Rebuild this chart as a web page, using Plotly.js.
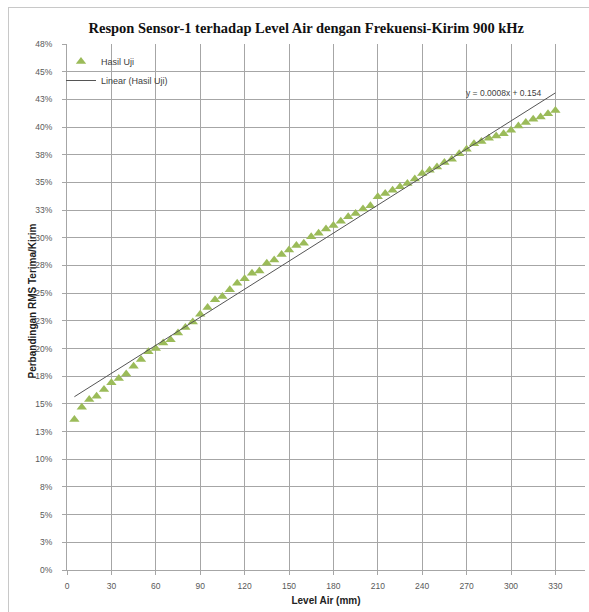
<!DOCTYPE html>
<html>
<head>
<meta charset="utf-8">
<script src="https://cdn.plot.ly/plotly-3.0.1.min.js"></script>
<style>
html,body{margin:0;padding:0;background:#fff;}
#wrap{position:relative;width:589px;height:612px;overflow:hidden;}
#chart{width:589px;height:612px;}
#frame{position:absolute;left:8px;top:7px;width:600px;height:620px;border-left:1px solid #c8c8c8;border-top:1px solid #c8c8c8;pointer-events:none;}
</style>
</head>
<body>
<div id="wrap"><div id="chart"></div><div id="frame"></div></div>
<script>
// Data
const levelAir = [5,10,15,20,25,30,35,40,45,50,55,60,65,70,75,80,85,90,95,100,
  105,110,115,120,125,130,135,140,145,150,155,160,165,170,175,180,185,190,195,200,
  205,210,215,220,225,230,235,240,245,250,255,260,265,270,275,280,285,290,295,300,
  305,310,315,320,325,330];
const hasilUji = [0.136,0.147,0.154,0.157,0.163,0.169,0.173,0.177,0.184,0.190,
  0.197,0.200,0.205,0.208,0.214,0.219,0.224,0.231,0.237,0.244,
  0.247,0.253,0.259,0.263,0.268,0.270,0.277,0.280,0.285,0.289,
  0.293,0.295,0.301,0.304,0.308,0.311,0.315,0.319,0.322,0.326,
  0.329,0.337,0.340,0.343,0.346,0.349,0.353,0.358,0.361,0.364,
  0.368,0.371,0.376,0.380,0.385,0.387,0.390,0.392,0.394,0.397,
  0.401,0.404,0.407,0.409,0.412,0.415];
const yTickVals = [0,0.025,0.05,0.075,0.1,0.125,0.15,0.175,0.2,0.225,0.25,0.275,0.3,0.325,0.35,0.375,0.4,0.425,0.45,0.475];
const yTickText = ["0%","3%","5%","8%","10%","13%","15%","18%","20%","23%","25%","28%","30%","33%","35%","38%","40%","43%","45%","48%"];
const xTickVals = [0,30,60,90,120,150,180,210,240,270,300,330];
const chartTitle = "Respon Sensor-1 terhadap Level Air dengan Frekuensi-Kirim 900 kHz";
const xTitle = "Level Air (mm)";
const yTitle = "Perbandingan RMS Terima/Kirim";
const seriesName = "Hasil Uji";
const trendName = "Linear (Hasil Uji)";
const eqText = "y = 0.0008x + 0.154";

// least-squares linear trend (as Excel does)
const n = levelAir.length;
let sx=0, sy=0, sxx=0, sxy=0;
for (let i=0;i<n;i++){ sx+=levelAir[i]; sy+=hasilUji[i]; sxx+=levelAir[i]*levelAir[i]; sxy+=levelAir[i]*hasilUji[i]; }
const slope = (n*sxy - sx*sy)/(n*sxx - sx*sx);
const intercept = (sy - slope*sx)/n;
const xMin = Math.min(...levelAir), xMax = Math.max(...levelAir);
const trendX = [xMin, xMax];
const trendY = trendX.map(v => intercept + slope*v);

const tickFont = {family:"Liberation Sans, Arial, sans-serif", size:8.5, color:"#595959"};
const gridColor = "#a6a6a6";

const data = [
  {x: levelAir, y: hasilUji, type:"scatter", mode:"markers", name: seriesName,
   marker:{symbol:"triangle-up", size:9, color:"#9BBB59", line:{width:0}}},
  {x: trendX, y: trendY, type:"scatter", mode:"lines", name: trendName,
   line:{color:"#555555", width:1}}
];

const layout = {
  width:589, height:612,
  margin:{l:67, r:4, t:44, b:42},
  paper_bgcolor:"#ffffff", plot_bgcolor:"#ffffff",
  title:{text: chartTitle, font:{family:"Liberation Serif, Times New Roman, serif", size:14.5, color:"#111111", weight:"bold"},
         x:0.52, xanchor:"center", y:0.955, yanchor:"middle"},
  xaxis:{range:[0,350], tickvals:xTickVals, ticks:"outside", ticklen:4, tickcolor:gridColor,
         showgrid:true, gridcolor:gridColor, gridwidth:1, showline:true, linecolor:gridColor, linewidth:1,
         zeroline:false, tickfont:tickFont, ticklabelstandoff:4,
         title:{text:xTitle, font:{family:"Liberation Sans, Arial, sans-serif", size:10, color:"#222222", weight:"bold"}, standoff:6}},
  yaxis:{range:[0,0.475], tickvals:yTickVals, ticktext:yTickText, ticks:"outside", ticklen:4, tickcolor:gridColor,
         showgrid:true, gridcolor:gridColor, gridwidth:1, showline:true, linecolor:gridColor, linewidth:1,
         zeroline:false, tickfont:tickFont, ticklabelstandoff:8},
  showlegend:true,
  legend:{x:-0.0116, y:1 - 3/526, xanchor:"left", yanchor:"top", bgcolor:"rgba(0,0,0,0)", borderwidth:0,
          font:{family:"Liberation Sans, Arial, sans-serif", size:9, color:"#404040"},
          itemwidth:30, tracegroupgap:0},
  shapes:[{type:"rect", xref:"paper", yref:"paper", x0:0.002, x1:0.19, y0:0.913, y1:0.998,
           fillcolor:"#ffffff", line:{width:0}, layer:"between"}],
  annotations:[
    {x:295, y:0.431, xref:"x", yref:"y", text:eqText, showarrow:false,
     font:{family:"Liberation Sans, Arial, sans-serif", size:8.5, color:"#404040"}, xanchor:"center", yanchor:"middle"},
    {x:0, y:0.5, xref:"paper", yref:"paper", xshift:-43, yshift:6, text:yTitle, textangle:-90, showarrow:false,
     font:{family:"Liberation Sans, Arial, sans-serif", size:10, color:"#222222", weight:"bold"}}
  ]
};

Plotly.newPlot("chart", data, layout, {displayModeBar:false, staticPlot:true});
</script>
</body>
</html>
